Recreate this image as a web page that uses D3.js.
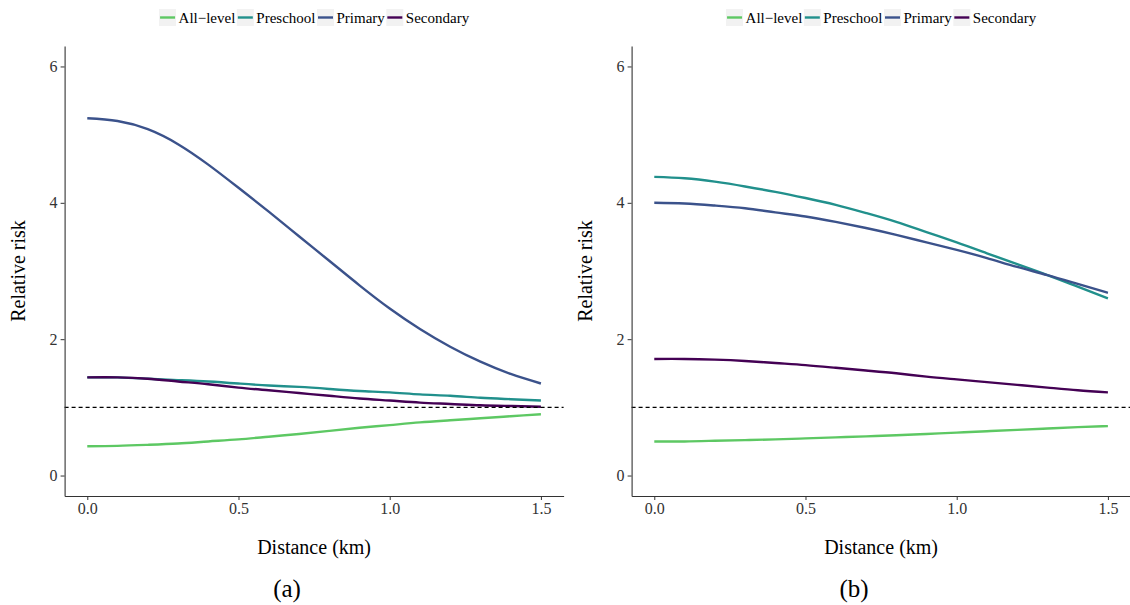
<!DOCTYPE html>
<html>
<head>
<meta charset="utf-8">
<script src="https://cdn.jsdelivr.net/npm/d3@7"></script>
<style>
  body { margin: 0; background: #fff; }
  svg { display: block; }
</style>
</head>
<body>
<div id="chart"></div>
<script>
// distance grid (km)
const distance = [0, 0.1, 0.2, 0.3, 0.4, 0.5, 0.6, 0.7, 0.8, 0.9, 1.0, 1.1, 1.2, 1.3, 1.4, 1.5];

const seriesNames = ["All\u2212level", "Preschool", "Primary", "Secondary"];
const seriesColors = ["#5DC863", "#21908C", "#3B528B", "#440154"];

// panel (a)
const allLevelA  = [0.43, 0.435, 0.45, 0.47, 0.50, 0.53, 0.57, 0.61, 0.655, 0.70, 0.74, 0.78, 0.81, 0.84, 0.87, 0.90];
const preschoolA = [1.44, 1.44, 1.42, 1.40, 1.38, 1.35, 1.32, 1.30, 1.27, 1.24, 1.22, 1.19, 1.17, 1.14, 1.12, 1.10];
const primaryA   = [5.24, 5.20, 5.08, 4.86, 4.56, 4.22, 3.87, 3.51, 3.15, 2.79, 2.45, 2.15, 1.89, 1.67, 1.49, 1.35];
const secondaryA = [1.44, 1.44, 1.42, 1.38, 1.34, 1.29, 1.25, 1.21, 1.17, 1.13, 1.10, 1.07, 1.05, 1.03, 1.02, 1.01];

// panel (b)
const allLevelB  = [0.50, 0.50, 0.51, 0.52, 0.53, 0.545, 0.56, 0.575, 0.59, 0.61, 0.63, 0.65, 0.67, 0.69, 0.71, 0.725];
const preschoolB = [4.38, 4.36, 4.31, 4.24, 4.16, 4.07, 3.97, 3.85, 3.72, 3.57, 3.42, 3.26, 3.10, 2.94, 2.77, 2.60];
const primaryB   = [4.00, 3.99, 3.96, 3.92, 3.86, 3.80, 3.72, 3.63, 3.53, 3.42, 3.31, 3.19, 3.06, 2.94, 2.81, 2.68];
const secondaryB = [1.71, 1.71, 1.70, 1.68, 1.65, 1.62, 1.58, 1.54, 1.50, 1.45, 1.41, 1.37, 1.33, 1.29, 1.25, 1.22];

const xTicks = [0, 0.5, 1.0, 1.5];
const yTicks = [0, 2, 4, 6];
const refLine = 1;

const width = 1130, height = 605;
const font = "'Liberation Serif', 'Times New Roman', serif";

const svg = d3.select("#chart")
    .append("svg")
    .attr("width", width)
    .attr("height", height);

function drawPanel(left, series, caption, captionX) {
    const panelW = 499;
    const top = 46, bottom = 496;

    const xScale = d3.scaleLinear()
        .domain([-0.075, 1.575])
        .range([left, left + panelW]);

    const yScale = d3.scaleLinear()
        .domain([-0.3, 6.3])
        .range([bottom, top]);

    const g = svg.append("g");

    const line = d3.line()
        .x((d, i) => xScale(distance[i]))
        .y(d => yScale(d))
        .curve(d3.curveNatural);

    g.selectAll("path.curve")
        .data(series)
        .enter()
        .append("path")
        .attr("class", "curve")
        .attr("d", d => line(d))
        .attr("fill", "none")
        .attr("stroke", (d, i) => seriesColors[i])
        .attr("stroke-width", 2.4);

    g.append("line")
        .attr("x1", xScale(-0.075))
        .attr("x2", xScale(1.575))
        .attr("y1", yScale(refLine))
        .attr("y2", yScale(refLine))
        .attr("stroke", "#000")
        .attr("stroke-width", 1.1)
        .attr("stroke-dasharray", "4,3");

    const xAxis = d3.axisBottom(xScale)
        .tickValues(xTicks)
        .tickFormat(d3.format(".1f"))
        .tickSizeInner(4)
        .tickSizeOuter(0)
        .tickPadding(3);

    const yAxis = d3.axisLeft(yScale)
        .tickValues(yTicks)
        .tickFormat(d3.format("d"))
        .tickSizeInner(4)
        .tickSizeOuter(0)
        .tickPadding(3);

    const gx = g.append("g")
        .attr("transform", "translate(0," + bottom + ")")
        .call(xAxis);

    const gy = g.append("g")
        .attr("transform", "translate(" + left + ",0)")
        .call(yAxis);

    [gx, gy].forEach(ax => {
        ax.attr("font-family", font);
        ax.select(".domain").attr("stroke", "#333").attr("stroke-width", 1.1);
        ax.selectAll(".tick line").attr("stroke", "#333");
        ax.selectAll(".tick text")
            .attr("font-family", font)
            .attr("font-size", 16)
            .attr("fill", "#333");
    });

    // axis titles
    g.append("text")
        .attr("x", left + panelW / 2)
        .attr("y", 554)
        .attr("text-anchor", "middle")
        .attr("font-family", font)
        .attr("font-size", 20)
        .text("Distance (km)");

    g.append("text")
        .attr("transform", "translate(" + (left - 40) + "," + ((top + bottom) / 2) + ") rotate(-90)")
        .attr("text-anchor", "middle")
        .attr("font-family", font)
        .attr("font-size", 20)
        .text("Relative risk");

    g.append("text")
        .attr("x", captionX)
        .attr("y", 597)
        .attr("text-anchor", "middle")
        .attr("font-family", font)
        .attr("font-size", 25)
        .text(caption);

    // legend
    const leg = g.append("g");
    let cursor = 0;
    seriesNames.forEach((name, i) => {
        const item = leg.append("g").attr("transform", "translate(" + cursor + ",0)");
        item.append("rect")
            .attr("x", 0).attr("y", 9)
            .attr("width", 17).attr("height", 17)
            .attr("fill", "#f2f2f2");
        item.append("line")
            .attr("x1", 1).attr("x2", 16)
            .attr("y1", 17.5).attr("y2", 17.5)
            .attr("stroke", seriesColors[i])
            .attr("stroke-width", 2.4);
        const t = item.append("text")
            .attr("x", 19.5)
            .attr("y", 23)
            .attr("font-family", font)
            .attr("font-size", 15)
            .text(name);
        cursor += 19.5 + t.node().getComputedTextLength() + 1.5;
    });
    const legW = cursor - 1.5;
    leg.attr("transform", "translate(" + (left + panelW / 2 - legW / 2) + ",0)");
}

drawPanel(64.6, [allLevelA, preschoolA, primaryA, secondaryA], "(a)", 287);
drawPanel(631.6, [allLevelB, preschoolB, primaryB, secondaryB], "(b)", 854);
</script>
</body>
</html>
